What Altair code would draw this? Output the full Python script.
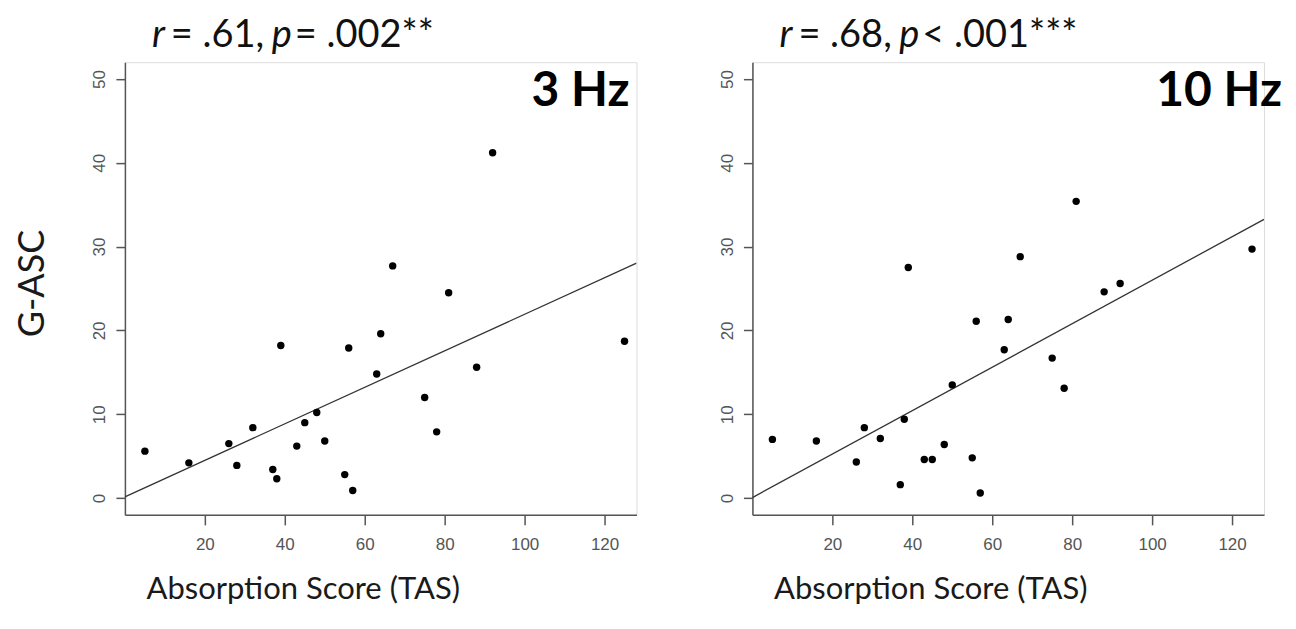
import altair as alt
import pandas as pd

# ---- data ----
tas = [5, 16, 26, 28, 32, 37, 38, 39, 43, 45, 48, 50, 55, 56, 57, 63, 64, 67, 75, 78, 81, 88, 92, 125]
gasc_3hz = [5.6, 4.2, 6.5, 3.9, 8.4, 3.4, 2.3, 18.2, 6.2, 9.0, 10.2, 6.8, 2.8, 17.9, 0.9, 14.8, 19.6, 27.7,
            12.0, 7.9, 24.5, 15.6, 41.2, 18.7]
gasc_10hz = [7.0, 6.8, 4.3, 8.4, 7.1, 1.6, 9.4, 27.5, 4.6, 4.6, 6.4, 13.5, 4.8, 21.1, 0.6, 17.7, 21.3, 28.8,
             16.7, 13.1, 35.4, 24.6, 25.6, 29.7]
x_ticks = [20, 40, 60, 80, 100, 120]
y_ticks = [0, 10, 20, 30, 40, 50]
panel_labels = ["3 Hz", "10 Hz"]
stat_r = ["= .61,", "= .68,"]
stat_p = ["= .002**", "< .001***"]
x_title = "Absorption Score (TAS)"
y_title = "G-ASC"

TITLE_FONT = "Lato"
TICK_FONT = "Liberation Sans"
AX = "#555555"
W, H = 512, 453
TFS = 38  # stat title font size
TY = -15  # stat title baseline relative to plot top


def panel(yvals, idx, show_ytitle):
    df = pd.DataFrame({"TAS": tas, "GASC": yvals})
    base = alt.Chart(df)
    x_axis = alt.Axis(values=x_ticks, grid=False, tickSize=10, labelPadding=12,
                      labelFont=TICK_FONT, labelFontSize=17, labelColor=AX,
                      domainColor=AX, tickColor=AX, domainWidth=1.5, tickWidth=1.5,
                      title=x_title, titleFont=TITLE_FONT, titleFontSize=31,
                      titleFontWeight="normal", titleColor="#1a1a1a",
                      titleX=178, titleY=84, titleBaseline="alphabetic", titleAlign="center")
    common_y = dict(values=y_ticks, grid=False, tickSize=9, labelPadding=11,
                    labelAngle=270, labelAlign="center", labelBaseline="alphabetic",
                    labelFont=TICK_FONT, labelFontSize=17, labelColor=AX,
                    domainColor=AX, tickColor=AX, domainWidth=1.5, tickWidth=1.5)
    if show_ytitle:
        y_axis = alt.Axis(**common_y,
                          title=y_title, titleFont=TITLE_FONT, titleFontSize=36,
                          titleFontWeight="normal", titleColor="#1a1a1a",
                          titleAngle=270, titleX=-81, titleY=221,
                          titleBaseline="alphabetic", titleAlign="center")
    else:
        y_axis = alt.Axis(**common_y, title=None)
    x = alt.X("TAS:Q", scale=alt.Scale(domain=[0, 128], nice=False, zero=False), axis=x_axis)
    y = alt.Y("GASC:Q", scale=alt.Scale(domain=[-2, 52], nice=False, zero=False), axis=y_axis)

    pts = base.mark_circle(size=55, color="black", opacity=1).encode(x=x, y=y)
    line = (base.transform_regression("TAS", "GASC", extent=[0, 128])
            .mark_line(color="#333333", strokeWidth=1.3, clip=True)
            .encode(x=x, y=y))

    one = lambda s: alt.Chart(pd.DataFrame({"t": [s]}))
    txt = dict(font=TITLE_FONT, fontSize=TFS, align="left", baseline="alphabetic", color="#111")
    t_r = one("r").mark_text(fontStyle="italic", **txt).encode(
        text="t:N", x=alt.value(27), y=alt.value(TY))
    t_r2 = one(stat_r[idx]).mark_text(**txt).encode(
        text="t:N", x=alt.value(46), y=alt.value(TY))
    t_p = one("p").mark_text(fontStyle="italic", **txt).encode(
        text="t:N", x=alt.value(147), y=alt.value(TY))
    t_p2 = one(stat_p[idx]).mark_text(**txt).encode(
        text="t:N", x=alt.value(170), y=alt.value(TY))
    hz = one(panel_labels[idx]).mark_text(font=TITLE_FONT, fontSize=48, fontWeight="bold",
                                          align="right", baseline="alphabetic", color="black").encode(
        text="t:N", x=alt.value(505 if idx == 0 else 530), y=alt.value(44))

    return alt.layer(line, pts, t_r, t_r2, t_p, t_p2, hz).properties(width=W, height=H)


chart = alt.hconcat(panel(gasc_3hz, 0, True), panel(gasc_10hz, 1, False),
                    spacing=116, bounds="flush").properties(
    padding={"left": 6, "top": 8, "right": 5, "bottom": 5}
).configure_view(strokeWidth=0).configure(background="white")

chart.save("out.html", embed_options={"renderer": "svg", "actions": False})
